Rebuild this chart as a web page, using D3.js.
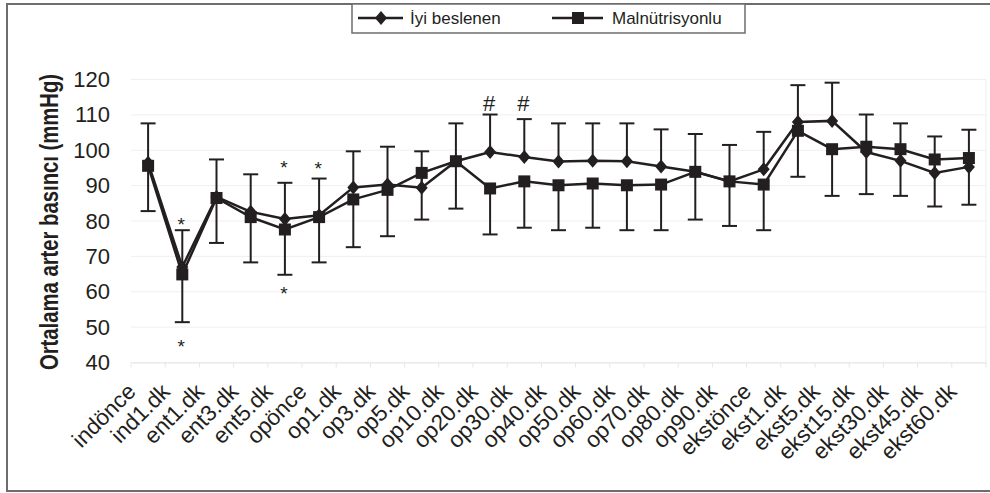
<!DOCTYPE html>
<html>
<head>
<meta charset="utf-8">
<style>
body{margin:0;background:#fff}
text{font-family:"Liberation Sans",Arial,sans-serif;fill:#231f20}
</style>
</head>
<body>
<svg id="chart" width="990" height="493"></svg>
<script src="https://d3js.org/d3.v7.min.js"></script>
<script>
// zaman noktalari
var labels = ["indönce","ind1.dk","ent1.dk","ent3.dk","ent5.dk","opönce","op1.dk","op3.dk","op5.dk","op10.dk",
  "op20.dk","op30.dk","op40.dk","op50.dk","op60.dk","op70.dk","op80.dk","op90.dk","ekstönce","ekst1.dk",
  "ekst5.dk","ekst15.dk","ekst30.dk","ekst45.dk","ekst60.dk"]

// İyi beslenen ortalama ve SD (ust)
var iyi   = [96.5,67,86.8,82.6,80.6,81.6,89.5,90.3,89.4,96.9,99.5,98.1,96.8,97,96.9,95.4,93.9,91.2,94.6,108,108.3,99.5,97,93.6,95.3]
var iyiSD = [11.1,10.4,10.6,10.6,10.2,10.4,10.2,10.7,10.3,10.7,10.6,10.7,10.8,10.6,10.7,10.5,10.7,10.3,10.6,10.4,10.8,10.6,10.6,10.3,10.5]

// Malnütrisyonlu ortalama ve SD (alt)
var mal   = [95.6,64.9,86.5,81.1,77.6,81.1,86.1,88.8,93.6,96.9,89.2,91.2,90.1,90.6,90.1,90.3,93.9,91.2,90.3,105.5,100.3,101,100.3,97.4,97.8]
var malSD = [12.8,13.5,12.7,12.8,12.8,12.8,13.5,13.1,13.2,13.4,13,13.1,12.7,12.5,12.7,12.9,13.5,12.6,12.9,13,13.2,13.4,13.2,13.3,13.2]

var yTicks = [40,50,60,70,80,90,100,110,120]

// anlamlilik isaretleri
var marks = [
  {at:"ind1.dk", v:80.4, s:"*"},
  {at:"ind1.dk", v:45.9, s:"*"},
  {at:"ent5.dk", v:96.3, s:"*"},
  {at:"ent5.dk", v:60.7, s:"*"},
  {at:"opönce",  v:96.1, s:"*"},
  {at:"op20.dk", v:113.1, s:"#"},
  {at:"op30.dk", v:113.1, s:"#"}
]

var ink = "#231f20"
var svg = d3.select("#chart")

// dis cerceve
svg.append("rect").attr("x",7).attr("y",4).attr("width",1000).attr("height",487)
  .attr("fill","none").attr("stroke","#6d6d6d").attr("stroke-width",2)

var x = d3.scaleBand().domain(labels).range([131,986])
var y = d3.scaleLinear().domain([40,120]).range([362.5,79.5])
var cx = function(l){ return x(l) + x.bandwidth()/2 }

// izgara
svg.append("g").selectAll("line").data(yTicks).enter().append("line")
  .attr("x1",131).attr("x2",986).attr("y1",d=>y(d)).attr("y2",d=>y(d))
  .attr("stroke","#efefef").attr("stroke-width",1)
svg.append("line").attr("x1",986).attr("x2",986).attr("y1",y(120)).attr("y2",y(40))
  .attr("stroke","#efefef")

// x ekseni
var xAxis = svg.append("g").attr("transform","translate(0,"+y(40)+")")
  .call(d3.axisBottom(x).tickSize(0).tickFormat(""))
xAxis.select(".domain").attr("stroke","#e6e6e6")
xAxis.selectAll(".bnd").data(d3.range(labels.length+1)).enter().append("line")
  .attr("x1",i=>131+i*x.step()).attr("x2",i=>131+i*x.step()).attr("y1",0).attr("y2",5)
  .attr("stroke","#e6e6e6")

svg.append("g").selectAll("text").data(labels).enter().append("text")
  .attr("transform",d=>"translate("+(cx(d)-11)+",393) rotate(-45)")
  .attr("text-anchor","end").attr("font-size",22.5).text(d=>d)

// y ekseni
var yAxis = svg.append("g").attr("transform","translate(131,0)")
  .call(d3.axisLeft(y).tickValues(yTicks).tickSize(0).tickPadding(21))
yAxis.select(".domain").remove()
yAxis.selectAll("text").attr("font-size",22).attr("font-family","Liberation Sans, Arial, sans-serif").attr("fill",ink)

// dar kalin baslik: yatayda sikistirilmis
svg.append("text").attr("transform","translate(58,222) rotate(-90) scale(0.78,1)")
  .attr("text-anchor","middle").attr("font-weight","bold").attr("font-size",26)
  .text("Ortalama arter basıncı (mmHg)")

// hata cubuklari
function errBars(vals, sd, dir){
  var g = svg.append("g").attr("stroke",ink).attr("stroke-width",2)
  labels.forEach(function(l,i){
    var end = vals[i] + dir*sd[i]
    g.append("line").attr("x1",cx(l)).attr("x2",cx(l)).attr("y1",y(vals[i])).attr("y2",y(end))
    g.append("line").attr("x1",cx(l)-7.5).attr("x2",cx(l)+7.5).attr("y1",y(end)).attr("y2",y(end))
  })
}
errBars(iyi, iyiSD, 1)
errBars(mal, malSD, -1)

// cizgiler
var line = d3.line().x((d,i)=>cx(labels[i])).y(d=>y(d))
svg.append("path").datum(mal).attr("d",line).attr("fill","none").attr("stroke",ink).attr("stroke-width",2.5)
svg.append("path").datum(iyi).attr("d",line).attr("fill","none").attr("stroke",ink).attr("stroke-width",2.5)

var diamond = "M0,-7L6,0L0,7L-6,0Z"
var square = "M-6,-6H6V6H-6Z"
svg.append("g").selectAll("path").data(mal).enter().append("path")
  .attr("d",square).attr("fill",ink).attr("transform",(d,i)=>"translate("+cx(labels[i])+","+y(d)+")")
svg.append("g").selectAll("path").data(iyi).enter().append("path")
  .attr("d",diamond).attr("fill",ink).attr("transform",(d,i)=>"translate("+cx(labels[i])+","+y(d)+")")

// isaretler
svg.append("g").selectAll("text").data(marks).enter().append("text")
  .attr("x",d=>cx(d.at)-1).attr("y",d=>y(d.v))
  .attr("dy",d=>d.s=="*" ? 11 : 7)
  .attr("text-anchor","middle").attr("font-size",d=>d.s=="*" ? 19 : 22).text(d=>d.s)

// lejant
var leg = svg.append("g")
leg.append("rect").attr("x",352).attr("y",4).attr("width",393).attr("height",29)
  .attr("fill","#fff").attr("stroke","#6d6d6d").attr("stroke-width",1.5)
leg.append("line").attr("x1",358).attr("x2",403).attr("y1",18).attr("y2",18).attr("stroke",ink).attr("stroke-width",2.5)
leg.append("path").attr("d",diamond).attr("fill",ink).attr("transform","translate(381,18)")
leg.append("text").attr("x",410).attr("y",24).attr("font-size",17).text("İyi beslenen")
leg.append("line").attr("x1",552).attr("x2",603).attr("y1",18).attr("y2",18).attr("stroke",ink).attr("stroke-width",2.5)
leg.append("path").attr("d",square).attr("fill",ink).attr("transform","translate(578,18)")
leg.append("text").attr("x",612).attr("y",24).attr("font-size",17).text("Malnütrisyonlu")
</script>
</body>
</html>
